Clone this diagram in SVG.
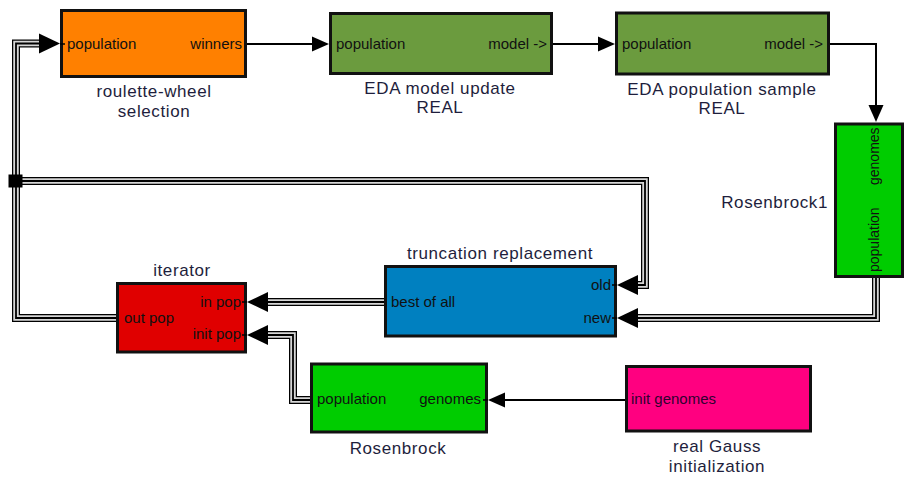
<svg xmlns="http://www.w3.org/2000/svg" xmlns:xlink="http://www.w3.org/1999/xlink" width="905" height="477" viewBox="0 0 905 477">
<style>
.box{stroke:#111;stroke-width:3}
.cap{font-family:"Liberation Sans",Arial,sans-serif;font-size:17px;letter-spacing:0.6px;fill:#1e1e3c;text-anchor:middle}
.port{font-family:"Liberation Sans",Arial,sans-serif;font-size:15px;fill:#111}
.vport{font-family:"Liberation Sans",Arial,sans-serif;font-size:14px;fill:#111}
.end{text-anchor:end}
.wire{fill:none;stroke:#000;stroke-width:2}
.t1{fill:none;stroke:#000;stroke-width:8;stroke-linejoin:miter}
.t2{fill:none;stroke:#d6d6d6;stroke-width:5.5;stroke-linejoin:miter}
.t3{fill:none;stroke:#000;stroke-width:1.8;stroke-linejoin:miter}
.tick{stroke:#000;stroke-width:1.5}
</style>
<defs>
<polygon id="ahb" points="0,0 21,-10 21,10" fill="#000"/>
<polygon id="ahs" points="0,0 17,-7.5 17,7.5" fill="#000"/>
<path id="w6" d="M116,318 H16 V43.5 H44"/>
<path id="w7" d="M16,181 H645 V285 H630"/>
<path id="w4" d="M876,278 V318 H630"/>
<path id="w5" d="M384,302 H260"/>
<path id="w8" d="M310,400 H293 V335 H260"/>
</defs>

<g id="connectors">
<path class="wire" d="M247,44 H315"/>
<path class="wire" d="M553,44 H600"/>
<path class="wire" d="M830,44 H876 V110"/>
<path class="wire" d="M625,400 H500"/>
<use xlink:href="#w6" class="t1"/><use xlink:href="#w6" class="t2"/><use xlink:href="#w6" class="t3"/>
<use xlink:href="#w7" class="t1"/><use xlink:href="#w7" class="t2"/><use xlink:href="#w7" class="t3"/>
<use xlink:href="#w4" class="t1"/><use xlink:href="#w4" class="t2"/><use xlink:href="#w4" class="t3"/>
<use xlink:href="#w5" class="t1"/><use xlink:href="#w5" class="t2"/><use xlink:href="#w5" class="t3"/>
<use xlink:href="#w8" class="t1"/><use xlink:href="#w8" class="t2"/><use xlink:href="#w8" class="t3"/>
<rect x="8.5" y="174.5" width="14" height="13" fill="#000"/>
<use xlink:href="#ahs" transform="translate(329,44) rotate(180)"/>
<use xlink:href="#ahs" transform="translate(615,44) rotate(180)"/>
<use xlink:href="#ahs" transform="translate(876,122) rotate(-90)"/>
<use xlink:href="#ahs" transform="translate(488,400)"/>
<use xlink:href="#ahb" transform="translate(60,43.5) rotate(180)"/>
<use xlink:href="#ahb" transform="translate(617,285)"/>
<use xlink:href="#ahb" transform="translate(617,318)"/>
<use xlink:href="#ahb" transform="translate(247,302)"/>
<use xlink:href="#ahb" transform="translate(247,335)"/>
</g>

<g id="roulette">
<rect class="box" x="61.5" y="10.5" width="184" height="66" fill="#ff8000"/>
<line class="tick" x1="60" y1="44" x2="65" y2="44"/>
<text class="port" x="67" y="49">population</text>
<text class="port end" x="242" y="49">winners</text>
<text class="cap" x="154" y="97">roulette-wheel</text>
<text class="cap" x="154" y="116.5">selection</text>
</g>

<g id="eda-model">
<rect class="box" x="330.5" y="13.5" width="221" height="60" fill="#6b9b3e"/>
<text class="port" x="336" y="49">population</text>
<text class="port end" x="547" y="49">model -&gt;</text>
<text class="cap" x="440" y="93.5">EDA model update</text>
<text class="cap" x="440" y="113">REAL</text>
</g>

<g id="eda-sample">
<rect class="box" x="616.5" y="13" width="212" height="61" fill="#6b9b3e"/>
<text class="port" x="622" y="49">population</text>
<text class="port end" x="823" y="49">model -&gt;</text>
<text class="cap" x="722" y="94.5">EDA population sample</text>
<text class="cap" x="722" y="114">REAL</text>
</g>

<g id="rosenbrock1">
<rect class="box" x="835.5" y="124" width="67" height="152.5" fill="#00cc00"/>
<text class="vport" transform="translate(879,185) rotate(-90)">genomes</text>
<text class="vport" transform="translate(879,272) rotate(-90)">population</text>
<text class="cap end" x="828" y="208">Rosenbrock1</text>
</g>

<g id="truncation">
<rect class="box" x="385.5" y="266.5" width="230" height="69.5" fill="#0080c0"/>
<line class="tick" x1="612" y1="285" x2="617" y2="285"/>
<line class="tick" x1="612" y1="318" x2="617" y2="318"/>
<text class="port" x="391" y="307">best of all</text>
<text class="port end" x="611" y="290">old</text>
<text class="port end" x="611" y="323">new</text>
<text class="cap" x="500" y="259">truncation replacement</text>
</g>

<g id="iterator">
<rect class="box" x="117.5" y="283.5" width="128" height="68.5" fill="#e00000"/>
<line class="tick" x1="242" y1="302" x2="247" y2="302"/>
<line class="tick" x1="242" y1="335" x2="247" y2="335"/>
<text class="port end" x="241" y="307">in pop</text>
<text class="port end" x="241" y="339">init pop</text>
<text class="port" x="124" y="323">out pop</text>
<text class="cap" x="182" y="276">iterator</text>
</g>

<g id="rosenbrock">
<rect class="box" x="311.5" y="364" width="175" height="68" fill="#00cc00"/>
<line class="tick" x1="483" y1="400" x2="488" y2="400"/>
<text class="port" x="317" y="404">population</text>
<text class="port end" x="481" y="404">genomes</text>
<text class="cap" x="398" y="454">Rosenbrock</text>
</g>

<g id="gauss">
<rect class="box" x="626.5" y="366.5" width="184" height="64.5" fill="#ff0080"/>
<text class="port" x="631" y="404" style="fill:#300030">init genomes</text>
<text class="cap" x="717" y="452">real Gauss</text>
<text class="cap" x="717" y="471.5">initialization</text>
</g>
</svg>
